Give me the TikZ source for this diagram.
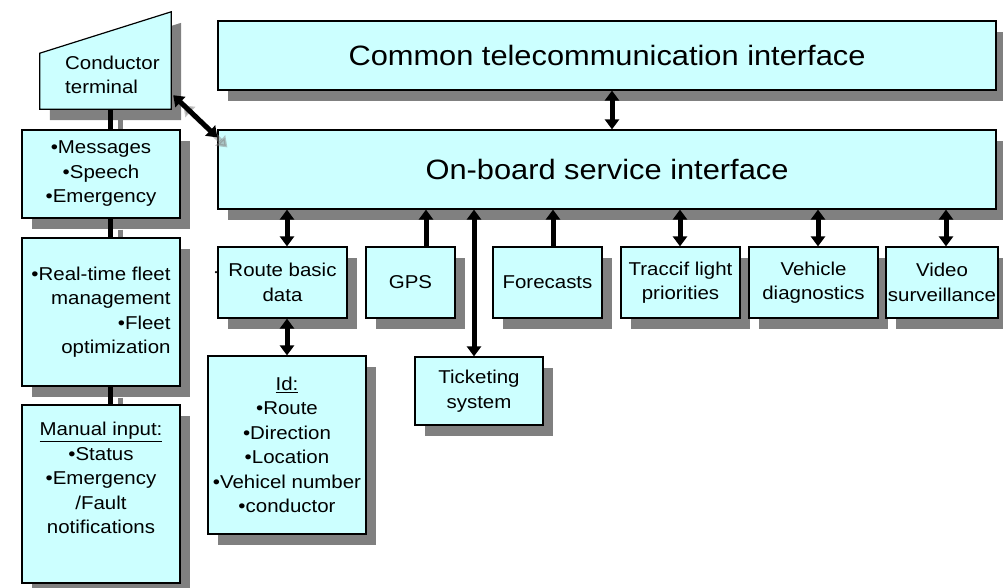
\documentclass[tikz,border=0pt]{standalone}
\usepackage{fontspec}
\setmainfont[FakeStretch=1.1]{Liberation Sans}
\usetikzlibrary{arrows.meta,shadows}
\definecolor{boxfill}{HTML}{CCFFFF}
\definecolor{shadowgray}{HTML}{808080}
\newcommand\smallfnt{\fontsize{18.6}{24.5}\selectfont}
\newcommand\bigfnt{\fontsize{28}{34}\selectfont}
\tikzset{
  box/.style={draw=black, line width=1.2pt, fill=boxfill, inner sep=0pt, align=center,
    font=\smallfnt,
    drop shadow={shadow xshift=10pt, shadow yshift=-11pt, fill=shadowgray, opacity=1}},
  bigbox/.style={box, font=\bigfnt},
  dbl/.style={line width=5pt, {Triangle[width=14pt,length=10pt]}-{Triangle[width=14pt,length=10pt]}},
  sgl/.style={line width=5pt, -{Triangle[width=14pt,length=10pt]}},
  vline/.style={line width=5pt, black},
  vshadow/.style={line width=5pt, shadowgray},
}
\begin{document}
\begin{tikzpicture}[x=1pt, y=-1pt]
\useasboundingbox (0,0) rectangle (1003,587);

% conductor terminal (trapezoid)
\node[minimum width=131pt, minimum height=97pt, inner sep=0pt] (ct) at (105.5,60.5) {};
\fill[shadowgray] ([xshift=10pt,yshift=-11pt]ct.south west) -- ([xshift=10pt,yshift=-11pt]ct.south east)
  -- ([xshift=10pt,yshift=-11pt]ct.north east) -- ([xshift=10pt,yshift=45pt]ct.south west) -- cycle;
\filldraw[fill=boxfill, draw=black, line width=1.2pt] (ct.south west) -- (ct.south east)
  -- (ct.north east) -- ([yshift=56pt]ct.south west) -- cycle;
\node[font=\smallfnt, align=left, anchor=west, inner sep=0pt] (ctt) at (65,75) {Conductor\\terminal};

% left column
\node[box, minimum width=158pt, minimum height=88pt] (msg) at (101,174)
  {•Messages\\•Speech\\•Emergency};
\node[box, minimum width=158pt, minimum height=148pt, align=right] (rt) at (101,312)
  {•Real-time fleet\\management\\•Fleet\\optimization};
\node[box, minimum width=158pt, minimum height=178pt] (man) at (101,494)
  {\underline{Manual input:}\\•Status\\•Emergency\\/Fault\\notifications\\\strut};

\coordinate (l1) at ([xshift=9pt]msg.north);
\coordinate (l2) at ([xshift=9pt]msg.south);
\coordinate (l3) at ([xshift=9pt]rt.south);
\coordinate (l0) at (l1 |- ct.south);
\draw[vshadow] ([xshift=10pt,yshift=-11pt]l0) -- ([xshift=10pt]l1);
\draw[vline] (l0) -- (l1);
\draw[vshadow] ([xshift=10pt,yshift=-11pt]l2) -- ([xshift=10pt]l2 |- rt.north);
\draw[vline] (l2) -- (l2 |- rt.north);
\draw[vshadow] ([xshift=10pt,yshift=-11pt]l3) -- ([xshift=10pt]l3 |- man.north);
\draw[vline] (l3) -- (l3 |- man.north);

% main interfaces
\node[bigbox, minimum width=778pt, minimum height=69pt] (cti) at (607,55.5) {Common telecommunication interface};
\node[bigbox, minimum width=778pt, minimum height=79pt] (obs) at (607,169.5) {On-board service interface};

% service boxes
\node[box, minimum width=129pt, minimum height=71pt] (route) at (282.5,282.5) {Route basic\\data};
\node[box, minimum width=89pt, minimum height=71pt] (gps) at (410.5,282.5) {GPS};
\node[box, minimum width=109pt, minimum height=71pt] (fore) at (547.5,282.5) {Forecasts};
\node[box, minimum width=119pt, minimum height=71pt] (traf) at (680.5,282.5) {Traccif light\\priorities};
\node[box, minimum width=129pt, minimum height=71pt] (veh) at (813.5,282.5) {Vehicle\\diagnostics};
\node[box, minimum width=112pt, minimum height=71pt] (vid) at (942,282.5) {Video\\surveillance};
\node[box, minimum width=158pt, minimum height=178pt] (id) at (287,445)
  {\underline{Id:}\\•Route\\•Direction\\•Location\\•Vehicel number\\•conductor};
\node[box, minimum width=128pt, minimum height=68pt] (tick) at (479,391) {Ticketing\\system};
\node[circle, fill=black, inner sep=0pt, minimum size=2.5pt] (rdot) at (216,272) {};

% arrows
\coordinate (a0) at ([xshift=5pt]cti.south);
\draw[dbl] (a0) -- (a0 |- obs.north);
\coordinate (a1) at ([xshift=4.5pt]route.north);
\draw[dbl] (a1) -- (a1 |- obs.south);
\coordinate (a2) at ([xshift=15.5pt]gps.north);
\draw[sgl] (a2) -- (a2 |- obs.south);
\coordinate (a3) at ([xshift=-5pt]tick.north);
\draw[dbl] (a3) -- (a3 |- obs.south);
\coordinate (a4) at ([xshift=5.5pt]fore.north);
\draw[sgl] (a4) -- (a4 |- obs.south);
\coordinate (a5) at ([xshift=-0.5pt]traf.north);
\draw[dbl] (a5) -- (a5 |- obs.south);
\coordinate (a6) at ([xshift=4.5pt]veh.north);
\draw[dbl] (a6) -- (a6 |- obs.south);
\coordinate (a7) at ([xshift=4pt]vid.north);
\draw[dbl] (a7) -- (a7 |- obs.south);
\draw[dbl] (id.north) -- (id.north |- route.south);

% diagonal arrow terminal <-> on-board
\coordinate (d1) at ([xshift=2pt,yshift=14pt]ct.south east);
\coordinate (d2) at ([yshift=-8pt]obs.north west);
\draw[dbl, shadowgray, opacity=0.45] ([xshift=10pt,yshift=-10pt]d1) -- ([xshift=10pt,yshift=-10pt]d2);
\draw[dbl] (d1) -- (d2);
\end{tikzpicture}
\end{document}
